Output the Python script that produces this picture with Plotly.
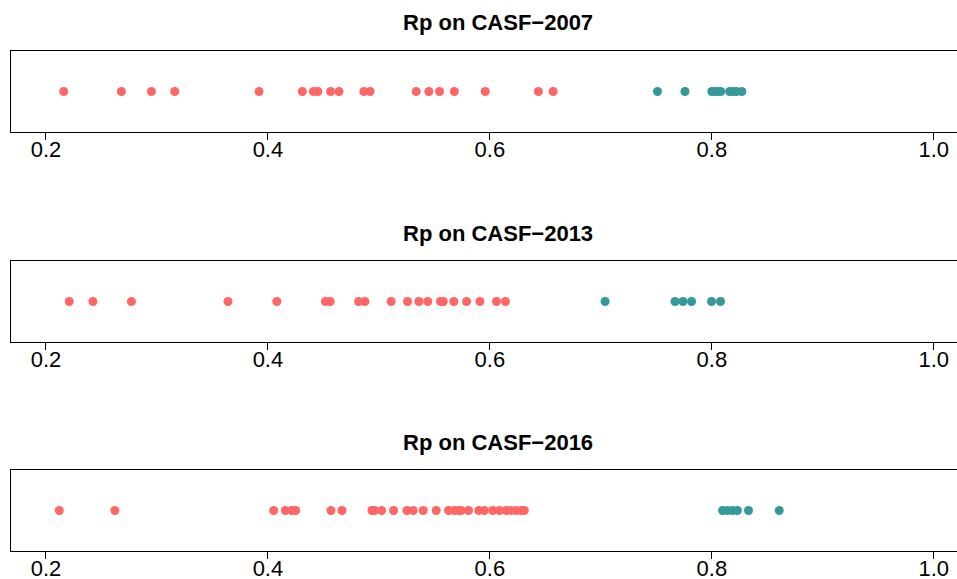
import plotly.graph_objects as go

titles = ["Rp on CASF\u22122007", "Rp on CASF\u22122013", "Rp on CASF\u22122016"]

red_2007 = [0.216, 0.268, 0.295, 0.316, 0.392, 0.431, 0.441, 0.445, 0.4565, 0.464,
            0.4865, 0.492, 0.5336, 0.545, 0.5546, 0.568, 0.5958, 0.6437, 0.657]
teal_2007 = [0.751, 0.7758, 0.800, 0.802, 0.805, 0.808, 0.816, 0.819, 0.822, 0.827]

red_2013 = [0.221, 0.2423, 0.277, 0.364, 0.408, 0.4518, 0.456, 0.4817, 0.4874, 0.511,
            0.5258, 0.536, 0.544, 0.5555, 0.558, 0.5675, 0.579, 0.591, 0.606, 0.614]
teal_2013 = [0.7038, 0.7668, 0.774, 0.7817, 0.7997, 0.8078]

red_2016 = [0.212, 0.2621, 0.4052, 0.4157, 0.4214, 0.425, 0.4568, 0.4667, 0.4937, 0.4961,
            0.5024, 0.5132, 0.5252, 0.5309, 0.5399, 0.5516, 0.5627, 0.5681, 0.572, 0.574,
            0.5807, 0.590, 0.595, 0.6026, 0.6087, 0.6147, 0.619, 0.6237, 0.628, 0.631]
teal_2016 = [0.8097, 0.814, 0.8186, 0.823, 0.833, 0.8607]

reds = [red_2007, red_2013, red_2016]
teals = [teal_2007, teal_2013, teal_2016]

tick_vals = [0.2, 0.4, 0.6, 0.8, 1.0]
tick_text = ["0.2", "0.4", "0.6", "0.8", "1.0"]

RED = "#FF6666"
TEAL = "#339999"

W, H = 957, 579
# panel boxes in pixel rows (top, bottom)
boxes = [(51, 132), (261, 342), (470, 551)]
title_rows = [23, 233, 442]

fig = go.Figure()
layout = dict(
    width=W, height=H,
    margin=dict(l=0, r=0, t=0, b=0),
    paper_bgcolor="white", plot_bgcolor="white",
    showlegend=False,
    font=dict(family="Liberation Sans, Arial, sans-serif", color="black"),
)

xr = [0.2 - 35 / 1111, 0.2 + 912 / 1111]
annotations = []
for i in range(3):
    n = "" if i == 0 else str(i + 1)
    xa = "x" + n
    ya = "y" + n
    fig.add_trace(go.Scatter(x=reds[i], y=[0] * len(reds[i]), mode="markers",
                             marker=dict(color=RED, size=9, line=dict(width=0)),
                             xaxis=xa, yaxis=ya))
    fig.add_trace(go.Scatter(x=teals[i], y=[0] * len(teals[i]), mode="markers",
                             marker=dict(color=TEAL, size=9, line=dict(width=0)),
                             xaxis=xa, yaxis=ya))
    top, bot = boxes[i]
    dom = [1 - bot / H, 1 - top / H]
    layout["xaxis" + n] = dict(
        domain=[11 / W, 1], range=xr, anchor=ya,
        showgrid=False, zeroline=False,
        showline=True, linecolor="black", linewidth=1.3, mirror=True,
        ticks="outside", ticklen=7, tickwidth=1.3, tickcolor="black",
        tickvals=tick_vals, ticktext=tick_text,
        tickfont=dict(size=22, color="black"),
        ticklabelstandoff=-10,
        automargin=False,
    )
    layout["yaxis" + n] = dict(
        domain=dom, range=[-1, 1], anchor=xa,
        showgrid=False, zeroline=False, showticklabels=False, ticks="",
        showline=True, linecolor="black", linewidth=1.3,
        automargin=False,
    )
    annotations.append(dict(
        text="<b>" + titles[i] + "</b>", x=498 / W, y=1 - title_rows[i] / H,
        xref="paper", yref="paper", xanchor="center", yanchor="middle",
        showarrow=False, font=dict(size=22, color="black"),
    ))

layout["annotations"] = annotations
fig.update_layout(**layout)
fig.write_html("out.html")
